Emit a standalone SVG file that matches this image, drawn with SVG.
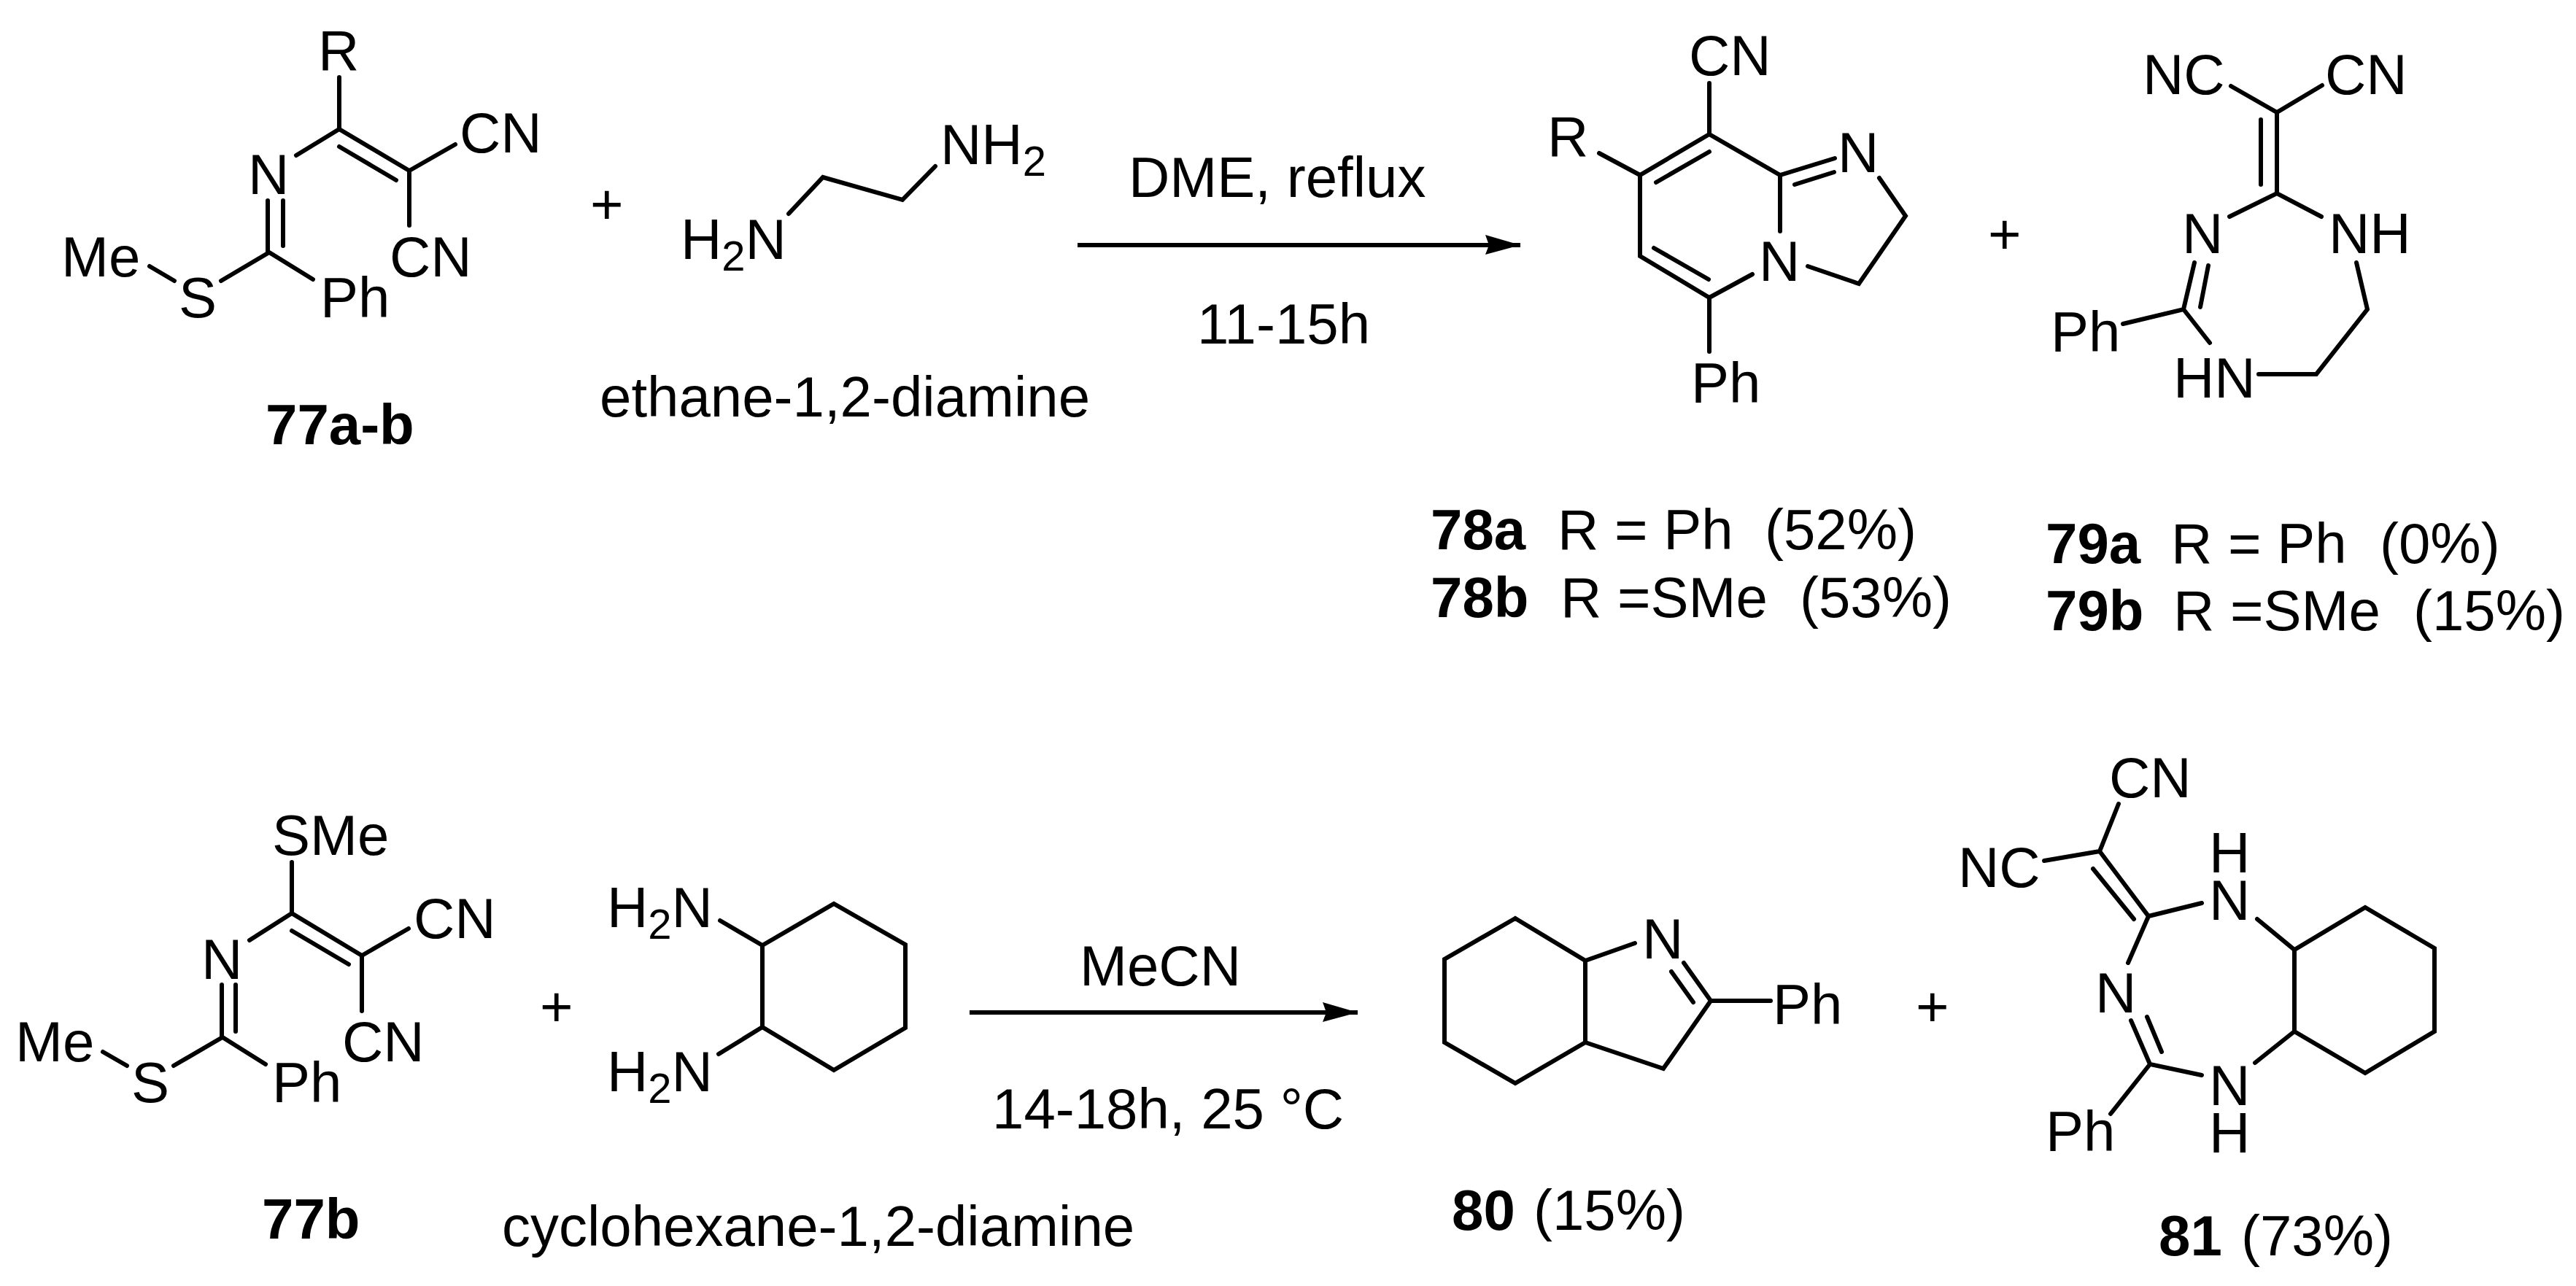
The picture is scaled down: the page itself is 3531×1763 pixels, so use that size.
<svg xmlns="http://www.w3.org/2000/svg" width="3531" height="1763" viewBox="0 0 3531 1763">
<style>
text{font-family:"Liberation Sans",Arial,sans-serif;font-size:78px;fill:#000}
.b{font-weight:700}
.s{font-size:58px}
.bond{fill:none;stroke:#000;stroke-width:6;stroke-linejoin:miter;stroke-linecap:round}
.arrow{fill:none;stroke:#000;stroke-width:6}
</style>
<defs>
<marker id="head" markerUnits="userSpaceOnUse" markerWidth="50" markerHeight="30" refX="48" refY="14" orient="auto">
<path d="M0 0L48 14L0 27L5 14Z" fill="#000"/>
</marker>
</defs>
<rect width="3531" height="1763" fill="#fff"/>
<g id="connectors">
<line class="arrow" x1="1477" y1="336" x2="2084" y2="336" marker-end="url(#head)"/>
<line class="arrow" x1="1329" y1="1388" x2="1861" y2="1388" marker-end="url(#head)"/>
</g>
<g id="m77ab">
<path class="bond" d="M465 106V177L561 234M465 177L406 213M465 201L543 247M561 234L624 198M561 234V309M367 275V346M388 275V337M303 385L369 346L429 383M205 365L239 385"/>
<text x="436" y="96">R</text>
<text x="630" y="209">CN</text>
<text x="534" y="379">CN</text>
<text x="340" y="266">N</text>
<text x="84" y="379">Me</text>
<text x="245" y="435">S</text>
<text x="439" y="435">Ph</text>
<text class="b" x="364" y="609">77a-b</text>
</g>
<g id="plus1"><text x="809" y="307">+</text></g>
<g id="ethanediamine">
<path class="bond" d="M1081 293L1128 243L1237 274L1282 228"/>
<text x="933" y="355">H<tspan class="s" dy="16">2</tspan><tspan dy="-16">N</tspan></text>
<text x="1289" y="225">NH<tspan class="s" dy="16">2</tspan></text>
<text x="822" y="571">ethane-1,2-diamine</text>
</g>
<g id="cond1">
<text x="1547" y="270">DME, reflux</text>
<text x="1641" y="471">11-15h</text>
</g>
<g id="m78">
<path class="bond" d="M2343 114V184L2440 240L2515 217M2460 253L2514 236M2192 210L2248 240L2343 184M2270 250L2343 208M2248 240V351L2343 408L2402 376M2267 340L2342 383M2343 408V482M2440 240V317M2576 244L2612 296L2548 389L2478 365"/>
<text x="2315" y="103">CN</text>
<text x="2121" y="214">R</text>
<text x="2519" y="236">N</text>
<text x="2411" y="385">N</text>
<text x="2318" y="552">Ph</text>
<text class="b" x="1961" y="753">78a</text>
<text x="2135" y="753">R = Ph</text>
<text x="2419" y="753">(52%)</text>
<text class="b" x="1961" y="846">78b</text>
<text x="2139" y="846">R =SMe</text>
<text x="2467" y="846">(53%)</text>
</g>
<g id="plus2"><text x="2725" y="348">+</text></g>
<g id="m79">
<path class="bond" d="M3058 118L3121 154L3183 117M3121 154V265M3099 164V253M3056 297L3121 265L3182 297M3027 364L3016 421M3008 360L2993 424M2910 444L2993 424L3029 470M3096 513H3175L3245 424L3230 360"/>
<text x="2937" y="129">NC</text>
<text x="3187" y="129">CN</text>
<text x="2991" y="347">N</text>
<text x="3192" y="347">NH</text>
<text x="2811" y="482">Ph</text>
<text x="2979" y="545">HN</text>
<text class="b" x="2804" y="772">79a</text>
<text x="2976" y="772">R = Ph</text>
<text x="3262" y="772">(0%)</text>
<text class="b" x="2804" y="864">79b</text>
<text x="2979" y="864">R =SMe</text>
<text x="3308" y="864">(15%)</text>
</g>
<g id="m77b">
<path class="bond" d="M400 1182V1252L496 1310M400 1252L342 1289M400 1276L478 1322M496 1310L560 1273M496 1310V1386M304 1350V1422M323 1350V1414M238 1461L305 1422L364 1459M141 1442L174 1461"/>
<text x="373" y="1172">SMe</text>
<text x="567" y="1286">CN</text>
<text x="469" y="1455">CN</text>
<text x="276" y="1342">N</text>
<text x="21" y="1455">Me</text>
<text x="180" y="1511">S</text>
<text x="373" y="1511">Ph</text>
<text class="b" x="359" y="1698">77b</text>
</g>
<g id="plus3"><text x="740" y="1407">+</text></g>
<g id="cyclohexanediamine">
<path class="bond" d="M1045 1296L1143 1239L1241 1295V1409L1143 1467L1045 1408ZM987 1262L1045 1296M985 1445L1045 1408"/>
<text x="832" y="1271">H<tspan class="s" dy="16">2</tspan><tspan dy="-16">N</tspan></text>
<text x="832" y="1496">H<tspan class="s" dy="16">2</tspan><tspan dy="-16">N</tspan></text>
<text x="688" y="1708">cyclohexane-1,2-diamine</text>
</g>
<g id="cond2">
<text x="1480" y="1351">MeCN</text>
<text x="1360" y="1547">14-18h, 25 °C</text>
</g>
<g id="m80">
<path class="bond" d="M2077 1259L1980 1315V1429L2077 1485L2173 1429V1317L2077 1259M2173 1317L2241 1293M2308 1320L2345 1372L2280 1465L2173 1429M2291 1332L2321 1374M2345 1372H2427"/>
<text x="2251" y="1314">N</text>
<text x="2430" y="1404">Ph</text>
<text class="b" x="1990" y="1686">80</text>
<text x="2102" y="1686">(15%)</text>
</g>
<g id="plus4"><text x="2626" y="1407">+</text></g>
<g id="m81">
<path class="bond" d="M2904 1102L2878 1167L2802 1180M2878 1167L2945 1256L3018 1238M2869 1191L2925 1260M2945 1256L2917 1320M2921 1399L2947 1459L3018 1474M2943 1394L2963 1442M2947 1459L2893 1527M3094 1260L3145 1302L3242 1244L3337 1300V1414L3242 1471L3145 1414V1302M3091 1457L3145 1414"/>
<text x="2891" y="1093">CN</text>
<text x="2684" y="1216">NC</text>
<text x="3028" y="1196">H</text>
<text x="3028" y="1261">N</text>
<text x="2872" y="1388">N</text>
<text x="3028" y="1515">N</text>
<text x="3028" y="1580">H</text>
<text x="2804" y="1578">Ph</text>
<text class="b" x="2959" y="1721">81</text>
<text x="3072" y="1721">(73%)</text>
</g>
</svg>
